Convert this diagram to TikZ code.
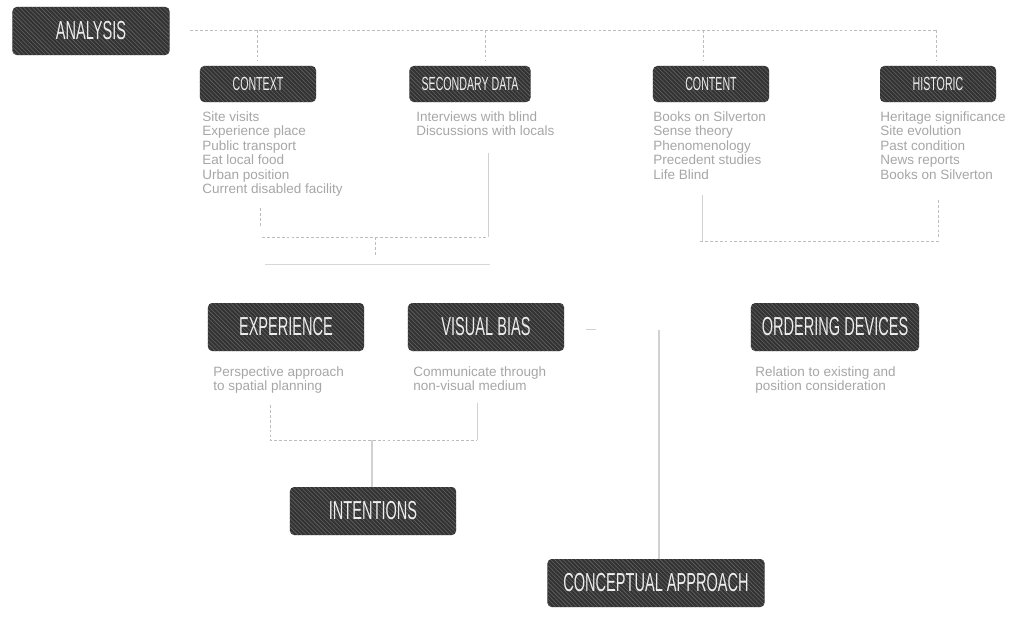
\documentclass[tikz,border=0pt]{standalone}
\usepackage{fontspec}
\setmainfont{Liberation Sans}
\newfontfamily\boxfont[FakeStretch=0.56]{Liberation Sans}
\usetikzlibrary{patterns}

\definecolor{boxgray}{HTML}{333333}
\definecolor{hatchgray}{HTML}{626262}
\definecolor{labelgray}{HTML}{EDEDED}
\definecolor{listgray}{HTML}{A6A6A6}
\definecolor{linegray}{HTML}{BDBDBD}

\begin{document}
\begin{tikzpicture}[
    x=0.025cm, y=-0.025cm,
    darkbox/.style={rectangle, rounded corners=3pt, fill=boxgray,
      postaction={pattern=north west lines, pattern color=hatchgray},
      text=labelgray, inner sep=0pt},
    smallbox/.style={darkbox, minimum width=2.9cm, minimum height=0.9cm,
      font=\boxfont\fontsize{13.5}{14}\selectfont},
    bigbox/.style={darkbox, minimum height=1.2cm,
      font=\boxfont\fontsize{18.5}{19}\selectfont},
    itemlist/.style={anchor=north west, align=left, inner sep=0pt, text=listgray,
      font=\fontsize{9.6}{10.35}\selectfont},
    dotline/.style={draw=linegray, line width=0.5pt, dash pattern=on 2pt off 1.5pt},
    thinline/.style={draw=linegray!70, line width=0.6pt}
  ]
  \useasboundingbox (0,0) rectangle (1017,625);

  % boxes
  \node (analysis) [bigbox, minimum width=3.925cm] at (91,31) {ANALYSIS};
  \node (context) [smallbox] at (258,84) {CONTEXT};
  \node (secdata) [smallbox, minimum width=3.025cm] at (470,84) {SECONDARY DATA};
  \node (content) [smallbox] at (711,84) {CONTENT};
  \node (historic) [smallbox] at (938,84) {HISTORIC};
  \node (experience) [bigbox, minimum width=3.9cm] at (286,327) {EXPERIENCE};
  \node (visbias) [bigbox, minimum width=3.9cm] at (486,327) {VISUAL BIAS};
  \node (ordering) [bigbox, minimum width=4.2cm] at (835,327) {ORDERING DEVICES};
  \node (intentions) [bigbox, minimum width=4.15cm] at (373,511) {INTENTIONS};
  \node (concept) [bigbox, minimum width=5.425cm] at (656,583) {CONCEPTUAL APPROACH};

  % lists
  \node (contextlist) [itemlist] at (202,111) {Site visits\\Experience place\\Public transport\\Eat local food\\Urban position\\Current disabled facility};
  \node (secdatalist) [itemlist] at (416,111) {Interviews with blind\\Discussions with locals};
  \node (contentlist) [itemlist] at (653,111) {Books on Silverton\\Sense theory\\Phenomenology\\Precedent studies\\Life Blind};
  \node (historiclist) [itemlist] at (880,111) {Heritage significance\\Site evolution\\Past condition\\News reports\\Books on Silverton};
  \node (experiencelist) [itemlist] at (213,366) {Perspective approach\\to spatial planning};
  \node (visbiaslist) [itemlist] at (413,366) {Communicate through\\non-visual medium};
  \node (orderinglist) [itemlist] at (755,366) {Relation to existing and\\position consideration};

  % top branch
  \coordinate (topL) at (190,30);
  \coordinate (topR) at (937,30);
  \draw[dotline] (topL) -- (topR);
  \foreach \x/\n in {257/context, 485/secdata, 703/content, 936/historic}
    \draw[dotline, shorten >=4pt] (\x,30) -- (\x,30 |- \n.north);

  % context and secondary data join
  \coordinate (cdrop) at (260,208);
  \coordinate (sdrop) at (488,153);
  \coordinate (cjoin) at (375,237);
  \draw[dotline] (cdrop) -- (260,226);
  \draw[thinline] (sdrop) -- (sdrop |- cjoin);
  \draw[dotline] (262,237) -- (sdrop |- cjoin);
  \draw[dotline] (cjoin) -- (375,255);
  \draw[thinline, draw=linegray!60] (265,264) -- (490,264);

  % content and historic join
  \coordinate (tdrop) at (702,195);
  \coordinate (hdrop) at (938,200);
  \draw[thinline] (tdrop) -- (702,241);
  \draw[dotline] (hdrop) -- (938,238);
  \draw[dotline] (700,241) -- (940,241);

  % conceptual approach
  \coordinate (cvtop) at (659,330);
  \draw[thinline] (586,329) -- (596,329);
  \draw[thinline, line width=0.9pt] (cvtop) -- (cvtop |- concept.north);

  % experience and visual bias join
  \coordinate (edrop) at (270,405);
  \coordinate (vdrop) at (477,403);
  \coordinate (ejoin) at (372,440);
  \draw[dotline] (edrop) -- (edrop |- ejoin) -- (vdrop |- ejoin);
  \draw[thinline] (vdrop) -- (vdrop |- ejoin);
  \draw[thinline, line width=0.9pt] (ejoin) -- (ejoin |- intentions.north);
\end{tikzpicture}
\end{document}
